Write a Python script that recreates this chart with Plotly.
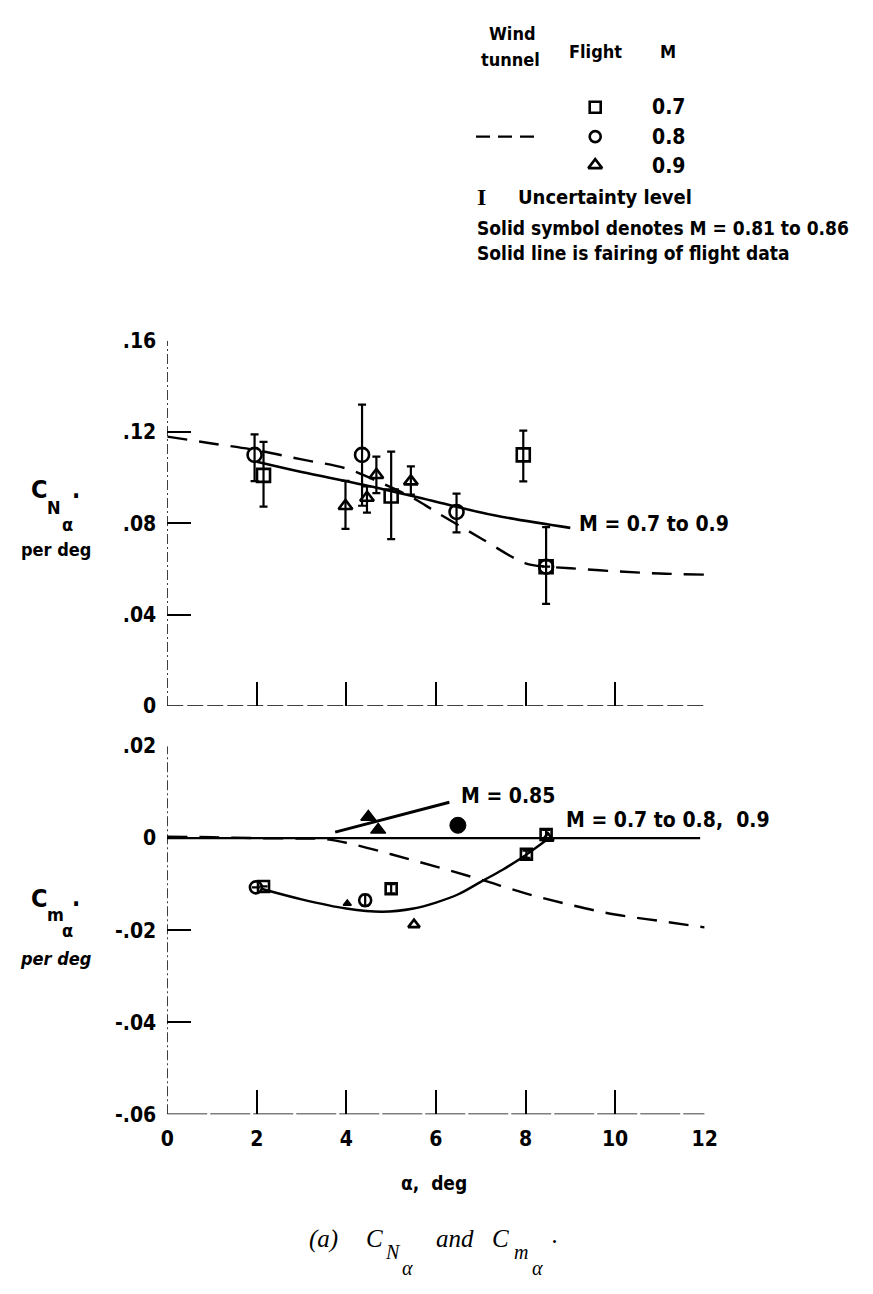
import plotly.graph_objects as go

# ---------------- data ----------------
# Normal-force slope, C_N_alpha (per deg)
cn_sq_alpha = [2.15, 5.0, 7.95, 8.46]
cn_sq_val = [0.101, 0.092, 0.110, 0.061]
cn_sq_hi = [0.0147, 0.0194, 0.0106, 0.0173]
cn_sq_lo = [0.0137, 0.0189, 0.0116, 0.0163]

cn_ci_alpha = [1.95, 4.35, 6.46, 8.46]
cn_ci_val = [0.110, 0.110, 0.085, 0.061]
cn_ci_hi = [0.009, 0.022, 0.008, 0.0]
cn_ci_lo = [0.0115, 0.0223, 0.009, 0.0]

cn_tr_alpha = [3.98, 4.46, 4.67, 5.44]
cn_tr_val = [0.0876, 0.0912, 0.1012, 0.0984]
cn_tr_hi = [0.011, 0.005, 0.008, 0.0066]
cn_tr_lo = [0.010, 0.0065, 0.008, 0.0058]

cn_wt_alpha = [0, 1, 2, 3, 4, 4.8, 5.5, 6, 7, 8, 8.5, 9, 10, 11, 12]
cn_wt_val = [0.118, 0.115, 0.112, 0.108, 0.104, 0.0975, 0.091, 0.085, 0.0735,
             0.0625, 0.061, 0.0603, 0.059, 0.058, 0.0575]

cn_fair_alpha = [2.0, 3.0, 4.4, 6.0, 7.3, 9.0]
cn_fair_val = [0.107, 0.1025, 0.0968, 0.0895, 0.0835, 0.078]

# Pitching-moment slope, C_m_alpha (per deg)
cm_sq_alpha = [2.15, 5.0, 8.02, 8.46]
cm_sq_val = [-0.0105, -0.011, -0.0035, 0.0008]
cm_sq_err = [0.0, 0.001, 0.0008, 0.001]

cm_ci_alpha = [1.98, 4.42]
cm_ci_val = [-0.0107, -0.0135]
cm_ci_err = [0.0, 0.0012]

cm_tr_alpha = [5.51, 8.5]
cm_tr_val = [-0.0188, 0.0]

cm_solid_tr_alpha = [4.49, 4.71, 4.02]
cm_solid_tr_val = [0.0046, 0.0018, -0.0142]
cm_solid_tr_size = [13, 13, 7]

cm_solid_ci_alpha = [6.49]
cm_solid_ci_val = [0.0028]

cm_wt_alpha = [0, 1, 2, 3, 3.5, 4, 5, 6, 7, 8, 9, 10, 11, 12]
cm_wt_val = [0.0003, 0.0002, 0.0, -0.0001, -0.0002, -0.001, -0.0035, -0.0062,
             -0.009, -0.012, -0.0145, -0.0166, -0.018, -0.0194]

cm_fair_alpha = [2.1, 3.0, 4.0, 4.8, 5.5, 6.0, 6.5, 7.0, 7.5, 8.0, 8.5]
cm_fair_val = [-0.011, -0.0133, -0.0153, -0.016, -0.0153, -0.014, -0.0122,
               -0.0095, -0.0068, -0.0037, -0.0002]

cm_085_alpha = [3.75, 6.3]
cm_085_val = [0.0013, 0.0078]

x_ticks = [0, 2, 4, 6, 8, 10, 12]
cn_ticks = [0, 0.04, 0.08, 0.12, 0.16]
cn_tick_text = ["0", ".04", ".08", ".12", ".16"]
cm_ticks = [-0.06, -0.04, -0.02, 0, 0.02]
cm_tick_text = ["-.06", "-.04", "-.02", "0", ".02"]

# ---------------- styling ----------------
W, H = 873, 1294
FONT = "DejaVu Sans Condensed, Liberation Sans Narrow, Liberation Sans, sans-serif"
SERIF = "Liberation Serif, DejaVu Serif, serif"
BLACK = "#000000"


def px_x(p):
    return p / W


def px_y(p):
    return 1 - p / H


X_DOM = [px_x(164), px_x(714)]
TOP_DOM = [px_y(707), px_y(335)]
BOT_DOM = [px_y(1123), px_y(748)]

fig = go.Figure()


def err(arr_hi, arr_lo=None):
    d = dict(type="data", array=arr_hi, visible=True, color=BLACK,
             thickness=2.2, width=4)
    if arr_lo is not None:
        d["arrayminus"] = arr_lo
        d["symmetric"] = False
    return d


def open_marker(symbol, size):
    return dict(symbol=symbol, size=size, color="rgba(255,255,255,0)",
                opacity=1, line=dict(color=BLACK, width=2.6))


# --- top panel ---
fig.add_trace(go.Scatter(x=cn_wt_alpha, y=cn_wt_val, mode="lines",
                         line=dict(color=BLACK, width=2.4, dash="20px,12px", shape="spline"),
                         xaxis="x", yaxis="y"))
fig.add_trace(go.Scatter(x=cn_fair_alpha, y=cn_fair_val, mode="lines",
                         line=dict(color=BLACK, width=2.6, shape="spline"),
                         xaxis="x", yaxis="y"))
fig.add_trace(go.Scatter(x=cn_sq_alpha, y=cn_sq_val, mode="markers",
                         marker=open_marker("square", 13),
                         error_y=err(cn_sq_hi, cn_sq_lo), xaxis="x", yaxis="y"))
fig.add_trace(go.Scatter(x=cn_ci_alpha, y=cn_ci_val, mode="markers",
                         marker=open_marker("circle", 14),
                         error_y=err(cn_ci_hi, cn_ci_lo), xaxis="x", yaxis="y"))
fig.add_trace(go.Scatter(x=cn_tr_alpha, y=cn_tr_val, mode="markers",
                         marker=open_marker("triangle-up", 12),
                         error_y=err(cn_tr_hi, cn_tr_lo), xaxis="x", yaxis="y"))

# --- bottom panel ---
fig.add_trace(go.Scatter(x=cm_wt_alpha, y=cm_wt_val, mode="lines",
                         line=dict(color=BLACK, width=2.4, dash="20px,12px", shape="spline"),
                         xaxis="x2", yaxis="y2"))
fig.add_trace(go.Scatter(x=cm_fair_alpha, y=cm_fair_val, mode="lines",
                         line=dict(color=BLACK, width=2.4, shape="spline"),
                         xaxis="x2", yaxis="y2"))
fig.add_trace(go.Scatter(x=cm_085_alpha, y=cm_085_val, mode="lines",
                         line=dict(color=BLACK, width=3),
                         xaxis="x2", yaxis="y2"))
fig.add_trace(go.Scatter(x=cm_sq_alpha, y=cm_sq_val, mode="markers",
                         marker=open_marker("square", 11),
                         error_y=err(cm_sq_err), xaxis="x2", yaxis="y2"))
fig.add_trace(go.Scatter(x=cm_ci_alpha, y=cm_ci_val, mode="markers",
                         marker=open_marker("circle", 12),
                         error_y=err(cm_ci_err), xaxis="x2", yaxis="y2"))
fig.add_trace(go.Scatter(x=cm_tr_alpha, y=cm_tr_val, mode="markers",
                         marker=open_marker("triangle-up", 10),
                         xaxis="x2", yaxis="y2"))
fig.add_trace(go.Scatter(x=cm_solid_tr_alpha, y=cm_solid_tr_val, mode="markers",
                         marker=dict(symbol="triangle-up", size=cm_solid_tr_size,
                                     color=BLACK, opacity=1,
                                     line=dict(color=BLACK, width=1.5)),
                         xaxis="x2", yaxis="y2"))
fig.add_trace(go.Scatter(x=cm_solid_ci_alpha, y=cm_solid_ci_val, mode="markers",
                         marker=dict(symbol="circle", size=16, color=BLACK, opacity=1,
                                     line=dict(color=BLACK, width=1)),
                         xaxis="x2", yaxis="y2"))

# --- legend keys (drawn on a pixel-space overlay axis) ---
fig.add_trace(go.Scatter(x=[602, 602, 602], y=[97, 127, 156], mode="markers",
                         marker=dict(symbol=["square", "circle", "triangle-up"],
                                     size=[11, 11, 12], color="rgba(255,255,255,0)",
                                     opacity=1, line=dict(color=BLACK, width=2.6)),
                         xaxis="x3", yaxis="y3"))
fig.add_trace(go.Scatter(x=[480, 543], y=[127, 127], mode="lines",
                         line=dict(color=BLACK, width=2.4, dash="14px,8px"),
                         xaxis="x3", yaxis="y3"))

# --- axes ---
axis_font = dict(family=FONT, size=21, color=BLACK, weight="bold")
common_x = dict(domain=X_DOM, range=[0, 12], showgrid=False, zeroline=False,
                showline=False, ticks="inside", ticklen=24, tickwidth=1.8,
                tickcolor=BLACK, tickvals=x_ticks)
fig.update_layout(
    xaxis=dict(**common_x, anchor="y", showticklabels=False),
    yaxis=dict(domain=TOP_DOM, range=[0, 0.16], showgrid=False, zeroline=False,
               showline=False, ticks="inside", ticklen=24, tickwidth=1.8,
               tickcolor=BLACK, tickvals=cn_ticks, ticktext=cn_tick_text,
               tickfont=axis_font, ticklabelstandoff=10, anchor="x"),
    xaxis2=dict(**common_x, anchor="y2", ticktext=[str(v) for v in x_ticks],
                tickfont=axis_font, ticklabelstandoff=10),
    yaxis2=dict(domain=BOT_DOM, range=[-0.06, 0.02], showgrid=False, zeroline=False,
                showline=False, ticks="inside", ticklen=24, tickwidth=1.8,
                tickcolor=BLACK, tickvals=cm_ticks, ticktext=cm_tick_text,
                tickfont=axis_font, ticklabelstandoff=10, anchor="x2"),
    xaxis3=dict(domain=[0, 1], range=[0, W], visible=False, anchor="y3"),
    yaxis3=dict(domain=[0, 1], range=[H, 0], visible=False, anchor="x3"),
    width=W, height=H, margin=dict(l=0, r=0, t=0, b=0),
    paper_bgcolor="white", plot_bgcolor="rgba(0,0,0,0)", showlegend=False,
)

# axis frame lines (broken, as on the original drawing)
shapes = [
    dict(type="line", xref="x", yref="y", x0=0, x1=12, y0=0, y1=0,
         line=dict(color=BLACK, width=1.5, dash="16px,4px")),
    dict(type="line", xref="x", yref="y", x0=0, x1=0, y0=0, y1=0.16,
         line=dict(color=BLACK, width=1.5, dash="10px,3px,2px,3px")),
    dict(type="line", xref="x2", yref="y2", x0=0, x1=12, y0=-0.06, y1=-0.06,
         line=dict(color=BLACK, width=1.5, dash="40px,3px")),
    dict(type="line", xref="x2", yref="y2", x0=0, x1=0, y0=-0.06, y1=0.02,
         line=dict(color=BLACK, width=1.5, dash="10px,3px,2px,3px")),
    dict(type="line", xref="x2", yref="y2", x0=0, x1=11.9, y0=0, y1=0,
         line=dict(color=BLACK, width=2.2)),
]
fig.update_layout(shapes=shapes)


def txt(x, y, text, size=19, anchor="left", family=FONT, bold=True, ref="3"):
    f = dict(family=family, size=size, color=BLACK)
    if bold:
        f["weight"] = "bold"
    fig.add_annotation(x=x, y=y, xref="x" + ref, yref="y" + ref, text=text,
                       showarrow=False, xanchor=anchor, yanchor="middle", font=f)


# curve labels
txt(9.14, 0.0795, "M = 0.7 to 0.9", size=21, ref="")
txt(6.52, 0.0092, "M = 0.85", size=21, ref="2")
txt(8.86, 0.0039, "M = 0.7 to 0.8,  0.9", size=21, ref="2")

# legend block
txt(517, 22, "Wind", 18, "center")
txt(515, 48, "tunnel", 18, "center")
txt(602, 40, "Flight", 18, "center")
txt(677, 40, "M", 18, "center")
txt(677, 97, "0.7", 21, "center")
txt(677, 127, "0.8", 21, "center")
txt(677, 157, "0.9", 21, "center")
txt(486, 188, "I", 24, "center", family=SERIF)
txt(521, 188, "Uncertainty level", 20)
txt(479, 220, "Solid symbol denotes M = 0.81 to 0.86", 19)
txt(479, 246, "Solid line is fairing of flight data", 19)

# y-axis titles
txt(33, 487, "C", 25, "center")
txt(48, 505, "N", 18, "center")
txt(62, 522, "α", 18, "center")
txt(71, 493, "·", 24, "center")
txt(50, 548, "per deg", 18, "center")

txt(33, 903, "C", 25, "center")
txt(50, 920, "m", 18, "center")
txt(62, 936, "α", 18, "center")
txt(71, 909, "·", 24, "center")
fig.add_annotation(x=50, y=964, xref="x3", yref="y3", text="<i>per deg</i>",
                   showarrow=False, xanchor="center", yanchor="middle",
                   font=dict(family=FONT, size=18, color=BLACK, weight="bold"))

# x-axis title
txt(437, 1193, "α,  deg", 19, "center")

# caption
for x, y, t, s in [(324, 1250, "(a)", 25), (376, 1250, "C", 25),
                   (395, 1263, "N", 20), (410, 1280, "α", 20),
                   (458, 1250, "and", 25), (505, 1250, "C", 25),
                   (526, 1263, "m", 20), (543, 1280, "α", 20),
                   (561, 1246, ".", 25)]:
    fig.add_annotation(x=x, y=y, xref="x3", yref="y3", text="<i>" + t + "</i>",
                       showarrow=False, xanchor="center", yanchor="middle",
                       font=dict(family=SERIF, size=s, color=BLACK))

fig.write_html("out.html")
